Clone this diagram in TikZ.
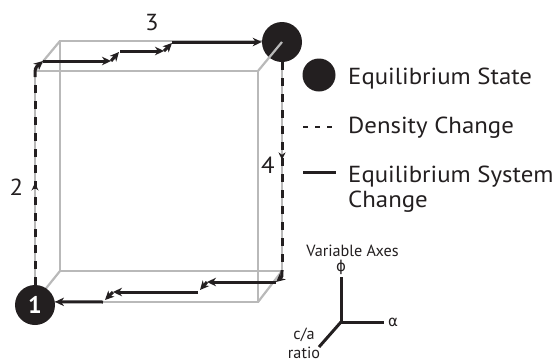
\documentclass[tikz,border=0pt]{standalone}
\usepackage{fontspec}
\setmainfont{PT Sans}
\newfontfamily\legfont[FakeStretch=1.07]{PT Sans}
\newfontfamily\grk{DejaVu Sans}
\usetikzlibrary{arrows.meta,decorations.markings}
\definecolor{cubegray}{HTML}{B9B9B9}
\definecolor{ink}{HTML}{231F20}
\begin{document}
\begin{tikzpicture}[x=1pt,y=-1pt,
  edge/.style={cubegray,line width=2.2pt},
  flow/.style={ink,line width=3pt,-{Stealth[length=9pt,width=8.5pt,inset=2.8pt]}},
  dens/.style={ink,line width=3pt,dash pattern=on 8pt off 8pt},
  midarrow/.style={postaction={decorate},decoration={markings,mark=at position #1 with {\arrow{Stealth[length=7.5pt,width=7pt]}}}},
  state/.style={circle,fill=ink,inner sep=0pt},
  lbl/.style={font=\legfont\fontsize{23.2}{25}\selectfont,inner sep=0pt,text=ink},
  small/.style={font=\fontsize{16.2}{17}\selectfont,inner sep=0pt,text=ink},
  axis/.style={ink,line width=3pt},
]
\useasboundingbox (0,0) rectangle (555,362);

% cube corners
\coordinate (b1) at (60,41);
\coordinate (b2) at (282,41);
\coordinate (b3) at (282,271);
\coordinate (b4) at (60,271);
\coordinate (f1) at (35,71);
\coordinate (f2) at (258,71);
\coordinate (f3) at (258,302);
\coordinate (f4) at (35,302);

\draw[edge] (b1) -- (b2) -- (b3) -- (b4) -- cycle;
\draw[edge] (f1) -- (f2) -- (f3) -- (f4) -- cycle;
\draw[edge] (b1) -- (f1);
\draw[edge] (b4) -- (f4);
\draw[edge] (b3) -- (f3);

% equilibrium states
\node[state,minimum size=40pt] (E) at (282,42) {};
\node[state,minimum size=40pt,text=white,font=\fontsize{24}{24}\selectfont\bfseries] (S1) at (35,305) {1};
\draw[edge] (E.center) -- (f2);

% left density change (2)
\coordinate (t0) at (35,77);
\draw[dens,midarrow=0.49] (S1.north) -- (t0);

% top staircase (3)
\coordinate (t1) at (43,61);
\coordinate (t2) at (111,61);
\coordinate (t3) at (119,52);
\coordinate (t4) at (120,51);
\coordinate (t5) at (164,51);
\coordinate (t6) at (172,43);
\coordinate (t7) at (172,42);
\draw[flow] (t0) .. controls (35,68) .. (t1);
\draw[flow] (t1) -- (t2);
\draw[flow] (t2) -- (t3);
\draw[flow] (t4) -- (t5);
\draw[flow] (t5) -- (t6);
\draw[flow] (t7) -- (E.west);

% right density change (4)
\coordinate (r0) at (282,270);
\draw[dens,midarrow=0.47] (E.south) -- (r0);

% bottom staircase
\coordinate (r1) at (276,282);
\coordinate (r2) at (207,282);
\coordinate (r3) at (200,290);
\coordinate (r4) at (198,292);
\coordinate (r5) at (113,292);
\coordinate (r6) at (105,300);
\coordinate (r7) at (103,302);
\draw[flow] (r0) .. controls (282,277) .. (r1);
\draw[flow] (r1) -- (r2);
\draw[flow] (r2) -- (r3);
\draw[flow] (r4) -- (r5);
\draw[flow] (r5) -- (r6);
\draw[flow] (r7) -- (S1.9);

% step labels
\node[lbl] (n3) at (152,23) {3};
\node[lbl] (n2) at (16.5,187) {2};
\node[lbl] (n4) at (268,165) {4};

% legend
\node[state,minimum size=33pt] (lgE) at (319,75) {};
\node[lbl,anchor=base west] (tE) at (348,84) {Equilibrium State};
\coordinate (ld1) at (303,127);
\coordinate (ld2) at (336,127);
\draw[ink,line width=2.4pt,dash pattern=on 5pt off 7pt] (ld1) -- (ld2);
\node[lbl,anchor=base west] (tD) at (348,133) {Density Change};
\coordinate (ls1) at (303,172);
\coordinate (ls2) at (336,172);
\draw[ink,line width=3pt] (ls1) -- (ls2);
\node[lbl,anchor=base west,align=left] (tS) at (348,207) {Equilibrium System\\Change};

% variable axes
\node[small] (va) at (352.5,251) {Variable Axes};
\coordinate (O) at (341,322);
\coordinate (ay) at (341,277);
\coordinate (ax) at (384,322);
\coordinate (az) at (319,347);
\draw[axis] (ay) -- (O) -- (ax);
\draw[axis] (O) -- (az);
\node[small,font=\fontsize{15}{17}\selectfont\grk] (phi) at (341,267) {ϕ};
\node[small,font=\fontsize{15}{17}\selectfont\grk] (alpha) at (393,322) {α};
\node[small] (ca) at (304,335) {c/a};
\node[small] (ratio) at (304,353) {ratio};
\end{tikzpicture}
\end{document}
